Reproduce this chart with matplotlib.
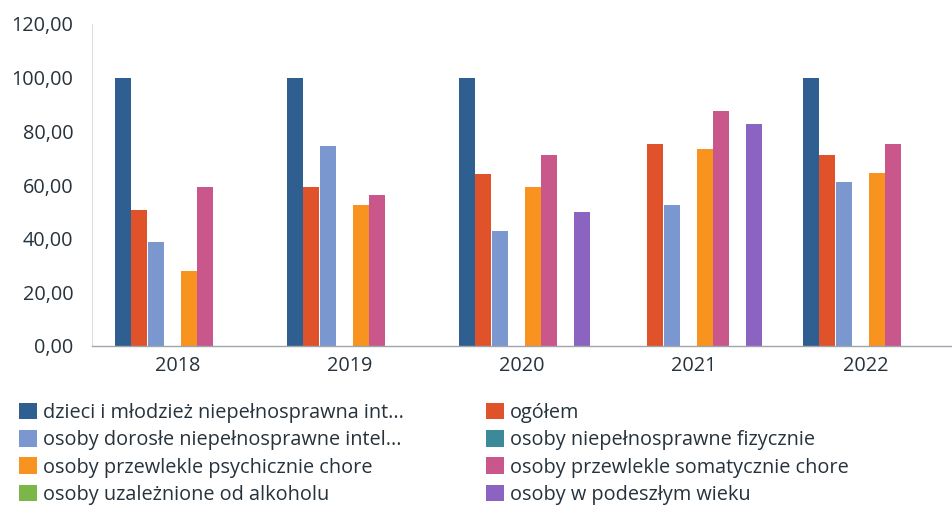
import matplotlib
matplotlib.use("Agg")
import matplotlib.pyplot as plt
from matplotlib.patches import Patch
import numpy as np

years = ["2018", "2019", "2020", "2021", "2022"]
series_names = [
    "dzieci i młodzież niepełnosprawna int...",
    "ogółem",
    "osoby dorosłe niepełnosprawne intel...",
    "osoby niepełnosprawne fizycznie",
    "osoby przewlekle psychicznie chore",
    "osoby przewlekle somatycznie chore",
    "osoby uzależnione od alkoholu",
    "osoby w podeszłym wieku",
]
nan = np.nan
dzieci = [100, 100, 100, nan, 100]
ogolem = [50.5, 59.4, 64.1, 75.1, 71.2]
dorosle = [38.6, 74.7, 43.0, 52.4, 61.0]
fizycznie = [nan, nan, nan, nan, nan]
psychicznie = [27.8, 52.4, 59.4, 73.6, 64.3]
somatycznie = [59.4, 56.4, 71.0, 87.5, 75.1]
alkohol = [nan, nan, nan, nan, nan]
podeszly = [nan, nan, 50.0, 82.6, nan]
values = [dzieci, ogolem, dorosle, fizycznie, psychicznie, somatycznie, alkohol, podeszly]
yticks = [0, 20, 40, 60, 80, 100, 120]
ytick_labels = ["0,00", "20,00", "40,00", "60,00", "80,00", "100,00", "120,00"]

colors = ["#2f5e91", "#e0522a", "#7b97cf", "#3a8a9a", "#f7931e", "#c9578c", "#7ab648", "#8a64c0"]

plt.rcParams['font.family'] = ['Open Sans', 'DejaVu Sans']
text_color = "#26323c"
fs = 14.3

fig = plt.figure(figsize=(9.53, 5.15), dpi=100)
ax = fig.add_axes([92/953, 1 - 346/515, 860/953, (346 - 24)/515])

x = np.arange(len(years))
slot = 0.096
width = 0.092
for i, (vals, c) in enumerate(zip(values, colors)):
    offs = (i - 3.5) * slot + 0.015
    v = np.array(vals, dtype=float)
    ax.bar(x + offs, np.nan_to_num(v), width=width, color=c, edgecolor="none", zorder=2)

ax.set_xlim(-0.5, 4.5)
ax.set_ylim(0, 120)
ax.set_yticks(yticks)
ax.set_yticklabels(ytick_labels)
ax.set_xticks(x)
ax.set_xticklabels(years)
ax.tick_params(axis='y', length=0, pad=13.5, labelsize=fs, labelcolor=text_color)
ax.tick_params(axis='x', length=0, pad=7, labelsize=fs, labelcolor=text_color)
for s in ["top", "right"]:
    ax.spines[s].set_visible(False)
ax.spines["left"].set_color("#dcdce4")
ax.spines["left"].set_linewidth(0.8)
ax.spines["bottom"].set_color("#a0a4ac")
ax.spines["bottom"].set_linewidth(1.0)

handles = [Patch(facecolor=c, edgecolor="none") for c in colors]
left_idx = [0, 2, 4, 6]
right_idx = [1, 3, 5, 7]
leg_kw = dict(frameon=False, fontsize=fs, handlelength=0.9, handleheight=0.9,
              handletextpad=0.3, labelspacing=0.36, borderpad=0, borderaxespad=0,
              labelcolor=text_color)
leg1 = fig.legend([handles[i] for i in left_idx], [series_names[i] for i in left_idx],
                  loc="upper left", bbox_to_anchor=(19/953, 1 - 403/515), **leg_kw)
leg2 = fig.legend([handles[i] for i in right_idx], [series_names[i] for i in right_idx],
                  loc="upper left", bbox_to_anchor=(486/953, 1 - 403/515), **leg_kw)

fig.savefig("out.png", dpi=100, facecolor="white")
